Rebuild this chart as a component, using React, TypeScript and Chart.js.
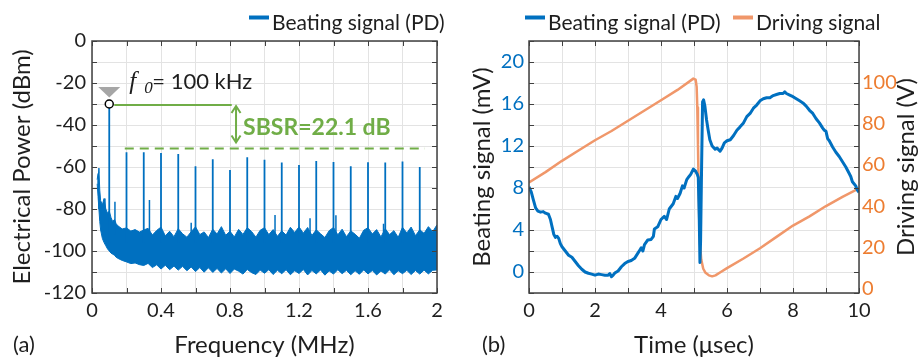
import React, { useEffect, useRef } from 'react';
import { Chart, registerables } from 'chart.js';

Chart.register(...registerables);

const SANS = 'Lato, "Open Sans", "DejaVu Sans", sans-serif';
const SERIF = '"Liberation Serif", "DejaVu Serif", serif';
const BLUE = '#0070C0';
const ORANGE_LINE = '#F0976A';
const ORANGE_TEXT = '#ED7D31';
const GREEN = '#70AD47';
const AXIS = '#404040';
const GRID = '#e3e3e3';
const TEXT = '#1e1e1e';

// ---------------- (a) spectrum ----------------
const noiseFreq = [
  0.03, 0.035, 0.04, 0.045, 0.05, 0.06, 0.07, 0.08, 0.09, 0.1,
  0.11, 0.12, 0.13, 0.14, 0.15, 0.175, 0.2, 0.225, 0.25, 0.275,
  0.3, 0.325, 0.35, 0.375, 0.4, 0.425, 0.45, 0.475, 0.5, 0.525,
  0.55, 0.575, 0.6, 0.625, 0.65, 0.675, 0.7, 0.725, 0.75, 0.775,
  0.8, 0.825, 0.85, 0.875, 0.9, 0.925, 0.95, 0.975, 1.0, 1.025,
  1.05, 1.075, 1.1, 1.125, 1.15, 1.175, 1.2, 1.225, 1.25, 1.275,
  1.3, 1.325, 1.35, 1.375, 1.4, 1.425, 1.45, 1.475, 1.5, 1.525,
  1.55, 1.575, 1.6, 1.625, 1.65, 1.675, 1.7, 1.725, 1.75, 1.775,
  1.8, 1.825, 1.85, 1.875, 1.9, 1.925, 1.95, 1.975, 2.0,
];
const noiseUpper = [
  -66, -63, -60.5, -71, -76, -78, -75, -80, -82, -81,
  -84, -86, -85, -87, -88, -89.5, -89, -90.5, -89.8, -91,
  -90, -89.2, -92.4, -90.2, -88.6, -92.8, -90.6, -93.2, -89.4, -91.8,
  -93.4, -90.8, -88.5, -92.2, -90.9, -93.6, -89.6, -91.9, -88.4, -92.5,
  -90.6, -93.3, -89.7, -92.1, -88.9, -90.7, -93.4, -90.1, -88.9, -92.2,
  -89.8, -93.0, -90.4, -92.4, -88.7, -91.2, -88.5, -91.5, -88.8, -92.6,
  -89.9, -91.8, -93.6, -90.3, -88.8, -92.3, -89.6, -93.2, -90.4, -92.0,
  -93.9, -90.1, -88.9, -91.9, -89.8, -93.3, -89.4, -92.2, -90.3, -93.5,
  -88.7, -91.4, -88.6, -92.7, -89.9, -91.6, -88.4, -90.8, -87.5,
];
const noiseLower = [
  -68, -74, -80, -86, -90, -94, -96, -97.5, -99, -100,
  -101, -101.5, -102, -103, -103.5, -104.5, -105.2, -106, -105.7, -106.5,
  -106.9, -105.9, -107.9, -106.6, -108.6, -106.8, -108.9, -107.2, -109.1, -107.3,
  -109.4, -107.6, -109.8, -107.9, -110.1, -108.0, -110.2, -108.3, -110.5, -108.5,
  -110.7, -108.6, -109.6, -111.0, -108.8, -110.3, -111.2, -109.1, -110.6, -108.9,
  -111.2, -109.2, -110.8, -108.9, -111.3, -109.4, -110.7, -108.8, -111.4, -109.3,
  -110.9, -109.0, -111.5, -109.5, -111.0, -108.9, -110.8, -109.2, -111.3, -109.4,
  -111.1, -109.0, -110.9, -109.3, -111.4, -109.5, -111.0, -108.9, -111.3, -109.4,
  -110.8, -109.2, -111.2, -109.3, -111.0, -109.1, -110.9, -109.2, -109,
];
const harmonicFreq = [0.1, 0.2, 0.3, 0.4, 0.5, 0.6, 0.7, 0.8, 0.9, 1.0, 1.1, 1.2, 1.3, 1.4, 1.5, 1.6, 1.7, 1.8, 1.9];
const harmonicPeak = [-30, -53, -53, -53.3, -53.8, -59.6, -56.3, -61.4, -55.3, -56.6, -57.8, -59, -57.1, -57.6, -59.7, -57.7, -57.9, -57.4, -60];
const harmonicBase = -96;
const spurFreq = [0.075, 0.133, 0.333, 0.575, 1.061, 1.264, 1.414, 1.69];
const spurPeak = [-75, -76.5, -75.7, -86.5, -82.9, -84.4, -83, -87];
const spurBase = -92;

const freqGridTicks = [0, 0.2, 0.4, 0.6, 0.8, 1.0, 1.2, 1.4, 1.6, 1.8, 2.0];
const freqLabelTicks = [0, 0.4, 0.8, 1.2, 1.6, 2.0];
const freqTickLabels = ['0', '0.4', '0.8', '1.2', '1.6', '2'];
const powerGridTicks = [0, -10, -20, -30, -40, -50, -60, -70, -80, -90, -100, -110, -120];
const powerLabelTicks = [0, -20, -40, -60, -80, -100, -120];
const powerTickLabels = ['0', '-20', '-40', '-60', '-80', '-100', '-120'];

const carrierFreq = 0.1;
const carrierPower = -30;
const sidebandPower = -51.2;
const sbsrSolidEnd = 0.81;
const sbsrDashStart = 0.19;
const sbsrDashEnd = 1.93;
const sbsrArrowFreq = 0.835;
const sbsrLabel = 'SBSR=22.1 dB';
const f0Symbol = 'f';
const f0Sub = '0';
const f0Text = '= 100 kHz';

// ---------------- (b) time domain ----------------
const beatTime = [
  0, 0.07, 0.13, 0.2, 0.27, 0.35, 0.43, 0.5, 0.59, 0.65,
  0.7, 0.75, 0.8, 0.85, 0.9, 0.95, 1.0, 1.1, 1.2, 1.3,
  1.4, 1.5, 1.6, 1.7, 1.8, 1.9, 2.0, 2.1, 2.2, 2.3,
  2.4, 2.45, 2.5, 2.55, 2.6, 2.7, 2.8, 2.9, 3.0, 3.1,
  3.2, 3.3, 3.36, 3.4, 3.45, 3.5, 3.6, 3.7, 3.77, 3.8,
  3.9, 4.0, 4.1, 4.17, 4.25, 4.37, 4.45, 4.5, 4.58, 4.65,
  4.7, 4.78, 4.85, 4.9, 4.98, 5.05, 5.1, 5.13, 5.16, 5.18,
  5.2, 5.23, 5.26, 5.29, 5.33, 5.38, 5.43, 5.48, 5.55, 5.64,
  5.7, 5.79, 5.85, 5.92, 6.0, 6.1, 6.2, 6.3, 6.39, 6.5,
  6.6, 6.7, 6.8, 6.9, 7.0, 7.1, 7.2, 7.3, 7.4, 7.5,
  7.6, 7.7, 7.75, 7.8, 7.9, 8.0, 8.1, 8.2, 8.3, 8.4,
  8.5, 8.6, 8.7, 8.8, 8.9, 8.95, 9.0, 9.05, 9.1, 9.2,
  9.3, 9.4, 9.5, 9.6, 9.7, 9.75, 9.8, 9.9, 9.95, 10.0,
];
const beatMv = [
  8.1, 7.6, 6.9, 6.1, 5.8, 5.7, 5.75, 5.6, 5.5, 5.0,
  4.3, 3.6, 3.3, 3.4, 3.2, 2.7, 2.4, 2.0, 1.6, 1.4,
  1.0, 0.6, 0.26, 0.0, -0.12, -0.2, -0.3, -0.2, -0.25, -0.3,
  -0.3, -0.15, -0.45, -0.3, -0.1, 0.1, 0.5, 0.8, 1.0, 1.1,
  1.3, 1.8, 2.1, 2.3, 2.0, 2.6, 3.05, 3.1, 3.4, 4.1,
  4.3, 5.0, 5.3, 5.0, 6.0, 6.5, 7.2, 7.0, 7.5, 8.2,
  8.0, 8.8, 9.1, 9.3, 9.8, 9.6, 9.3, 9.0, 5.0, 0.9,
  3.0, 10.0, 16.2, 16.4, 15.8, 14.5, 13.5, 12.6, 12.0, 11.7,
  11.8, 11.5, 11.8, 12.3, 12.5, 12.6, 13.0, 13.5, 13.8, 14.2,
  14.8, 15.1, 15.6, 15.9, 16.3, 16.5, 16.6, 16.6, 16.8, 16.9,
  17.0, 17.0, 17.15, 17.0, 16.85, 16.7, 16.5, 16.3, 16.1, 15.8,
  15.4, 15.1, 14.6, 14.2, 13.7, 13.5, 13.4, 12.7, 12.5, 11.9,
  11.4, 11.0, 10.5, 10.0, 9.4, 9.1, 8.6, 8.2, 7.8, 7.6,
];
const driveTime = [
  0, 0.5, 1, 1.5, 2, 2.5, 3, 3.5, 4, 4.5,
  4.98, 5.05, 5.08, 5.1, 5.12, 5.14, 5.16, 5.18, 5.22, 5.28,
  5.35, 5.45, 5.55, 5.65, 5.8, 6.0, 6.5, 7.0, 7.5, 8.0,
  8.5, 9.0, 9.5, 10.0,
];
const driveV = [
  51.5, 56.5, 62, 67, 72, 76.5, 81.5, 86.5, 91.5, 96.5,
  102, 101.5, 98, 88, 70, 50, 32, 22, 14, 9.5,
  7.5, 6.3, 5.8, 6.3, 7.8, 9.8, 14.5, 19.5, 25, 30.5,
  35, 40, 44.5, 48.6,
];
const timeGridTicks = [0, 1, 2, 3, 4, 5, 6, 7, 8, 9, 10];
const timeLabelTicks = [0, 2, 4, 6, 8, 10];
const beatGridTicks = [-2, 0, 2, 4, 6, 8, 10, 12, 14, 16, 18, 20, 22];
const beatLabelTicks = [0, 4, 8, 12, 16, 20];
const driveLabelTicks = [0, 20, 40, 60, 80, 100];

const legendA = ['Beating signal (PD)'];
const legendB = ['Beating signal (PD)', 'Driving signal'];

// ---------------- helpers ----------------
const near = (a: number, b: number) => Math.abs(a - b) < 1e-6;
const labelFor = (vals: number[], labels: string[]) => (v: any) => {
  const i = vals.findIndex((t) => near(t, Number(v)));
  return i >= 0 ? labels[i] : '';
};
const setTicks = (vals: number[]) => (scale: any) => {
  scale.ticks = vals.map((v) => ({ value: v }));
};
const spikes = (freqs: number[], peaks: number[], base: number) =>
  freqs.flatMap((f, i) => [
    { x: f, y: base },
    { x: f, y: peaks[i] },
    { x: f, y: null },
  ]);

function drawFrame(chart: any, xTicks: number[], yTicks: number[], yId: string) {
  const { ctx, chartArea: a, scales } = chart;
  const xs = scales.x;
  const ys = scales[yId];
  ctx.save();
  ctx.strokeStyle = AXIS;
  ctx.lineWidth = 1;
  ctx.beginPath();
  for (const v of xTicks) {
    const px = Math.round(xs.getPixelForValue(v)) + 0.5;
    ctx.moveTo(px, a.bottom);
    ctx.lineTo(px, a.bottom - 5);
    ctx.moveTo(px, a.top);
    ctx.lineTo(px, a.top + 5);
  }
  for (const v of yTicks) {
    const py = Math.round(ys.getPixelForValue(v)) + 0.5;
    ctx.moveTo(a.left, py);
    ctx.lineTo(a.left + 5, py);
    ctx.moveTo(a.right, py);
    ctx.lineTo(a.right - 5, py);
  }
  ctx.stroke();
  ctx.lineWidth = 1.5;
  ctx.strokeRect(a.left, a.top, a.right - a.left, a.bottom - a.top);
  ctx.restore();
}

function drawText(ctx: any, s: string, x: number, y: number, font: string, color: string, align = 'left', rotate = 0, baseline = 'alphabetic') {
  ctx.save();
  ctx.font = font;
  ctx.fillStyle = color;
  ctx.textAlign = align;
  ctx.textBaseline = baseline;
  ctx.translate(x, y);
  if (rotate) ctx.rotate(rotate);
  ctx.fillText(s, 0, 0);
  ctx.restore();
}

function drawLegendItem(ctx: any, x: number, color: string, label: string) {
  ctx.save();
  ctx.strokeStyle = color;
  ctx.lineWidth = 4;
  ctx.beginPath();
  ctx.moveTo(x, 17.5);
  ctx.lineTo(x + 20, 17.5);
  ctx.stroke();
  ctx.restore();
  drawText(ctx, label, x + 23, 30, `21px ${SANS}`, TEXT);
}

const TITLE_FONT = `24px ${SANS}`;
const TICK_FONT = { family: SANS, size: 20 };

// ---------------- chart (a) ----------------
const plotA = {
  id: 'plotA',
  afterDraw(chart: any) {
    const { ctx, chartArea: a, scales } = chart;
    const x = scales.x;
    const y = scales.y;
    const cx = x.getPixelForValue(carrierFreq);
    const cy = y.getPixelForValue(carrierPower);
    const sy = y.getPixelForValue(sidebandPower);
    ctx.save();
    ctx.strokeStyle = GREEN;
    ctx.lineWidth = 2;
    ctx.beginPath();
    ctx.moveTo(cx + 5, cy + 1);
    ctx.lineTo(x.getPixelForValue(sbsrSolidEnd), cy + 1);
    ctx.stroke();
    ctx.setLineDash([9, 6]);
    ctx.beginPath();
    ctx.moveTo(x.getPixelForValue(sbsrDashStart), sy);
    ctx.lineTo(x.getPixelForValue(sbsrDashEnd), sy);
    ctx.stroke();
    ctx.setLineDash([]);
    const ax = x.getPixelForValue(sbsrArrowFreq);
    const t1 = cy + 2;
    const t2 = sy - 6;
    ctx.beginPath();
    ctx.moveTo(ax, t1);
    ctx.lineTo(ax, t2);
    ctx.moveTo(ax - 4.5, t1 + 7);
    ctx.lineTo(ax, t1);
    ctx.lineTo(ax + 4.5, t1 + 7);
    ctx.moveTo(ax - 4.5, t2 - 7);
    ctx.lineTo(ax, t2);
    ctx.lineTo(ax + 4.5, t2 - 7);
    ctx.stroke();
    ctx.restore();
    drawText(ctx, sbsrLabel, ax + 7, (cy + sy) / 2 + 9, `bold 23px ${SANS}`, GREEN);
    ctx.save();
    ctx.fillStyle = '#A6A6A6';
    ctx.beginPath();
    ctx.moveTo(cx - 11, cy - 17);
    ctx.lineTo(cx + 11, cy - 17);
    ctx.lineTo(cx, cy - 6.5);
    ctx.closePath();
    ctx.fill();
    ctx.fillStyle = '#ffffff';
    ctx.strokeStyle = '#000000';
    ctx.lineWidth = 1.5;
    ctx.beginPath();
    ctx.arc(cx, cy, 4, 0, Math.PI * 2);
    ctx.fill();
    ctx.stroke();
    ctx.restore();
    drawText(ctx, f0Symbol, cx + 20, cy - 15, `italic 25px ${SERIF}`, TEXT);
    drawText(ctx, f0Sub, cx + 35, cy - 11.5, `italic 17px ${SERIF}`, TEXT);
    drawText(ctx, f0Text, cx + 43, cy - 15, `22px ${SANS}`, TEXT);
    drawFrame(chart, freqGridTicks, powerGridTicks, 'y');
    const mid = (a.left + a.right) / 2;
    drawText(ctx, 'Frequency (MHz)', mid, 353, TITLE_FONT, TEXT, 'center');
    drawText(ctx, 'Electrical Power (dBm)', 30, (a.top + a.bottom) / 2, TITLE_FONT, TEXT, 'center', -Math.PI / 2);
    drawText(ctx, '(a)', 13, 352, `22px ${SANS}`, TEXT);
    drawLegendItem(ctx, 249, BLUE, legendA[0]);
  },
};

function configA(): any {
  return {
    type: 'line',
    data: {
      datasets: [
        {
          data: spikes(harmonicFreq, harmonicPeak, harmonicBase),
          borderColor: BLUE,
          borderWidth: 1.8,
          pointRadius: 0,
          spanGaps: false,
        },
        {
          data: spikes(spurFreq, spurPeak, spurBase),
          borderColor: BLUE,
          borderWidth: 1.5,
          pointRadius: 0,
          spanGaps: false,
        },
        {
          data: noiseFreq.map((f, i) => ({ x: f, y: noiseUpper[i] })),
          borderColor: BLUE,
          borderWidth: 1,
          pointRadius: 0,
          fill: false,
        },
        {
          data: noiseFreq.map((f, i) => ({ x: f, y: noiseLower[i] })),
          borderColor: BLUE,
          borderWidth: 1,
          pointRadius: 0,
          backgroundColor: BLUE,
          fill: '-1',
        },
      ],
    },
    options: {
      responsive: false,
      animation: false,
      devicePixelRatio: 1,
      events: [],
      layout: { padding: { top: 41, right: 23, left: 0, bottom: 0 } },
      plugins: { legend: { display: false }, tooltip: { enabled: false }, filler: { propagate: false } },
      scales: {
        x: {
          type: 'linear',
          min: 0,
          max: 2,
          afterBuildTicks: setTicks(freqGridTicks),
          afterFit: (s: any) => { s.height = 65; },
          grid: { color: GRID, lineWidth: 1, drawTicks: false },
          border: { display: false },
          ticks: { callback: labelFor(freqLabelTicks, freqTickLabels), font: TICK_FONT, color: TEXT, padding: 6, maxRotation: 0, autoSkip: false },
        },
        y: {
          type: 'linear',
          min: -120,
          max: 0,
          afterBuildTicks: setTicks(powerGridTicks),
          afterFit: (s: any) => { s.width = 92; },
          grid: { color: GRID, lineWidth: 1, drawTicks: false },
          border: { display: false },
          ticks: { callback: labelFor(powerLabelTicks, powerTickLabels), font: TICK_FONT, color: TEXT, padding: 6, autoSkip: false },
        },
      },
    },
    plugins: [plotA],
  };
}

// ---------------- chart (b) ----------------
const plotB = {
  id: 'plotB',
  afterDraw(chart: any) {
    const { ctx, chartArea: a } = chart;
    drawFrame(chart, timeGridTicks, beatGridTicks, 'yL');
    const mid = (a.left + a.right) / 2;
    const vmid = (a.top + a.bottom) / 2;
    drawText(ctx, 'Time (\u03bcsec)', mid, 353, TITLE_FONT, TEXT, 'center');
    drawText(ctx, 'Beating signal (mV)', 30, vmid, TITLE_FONT, TEXT, 'center', -Math.PI / 2);
    drawText(ctx, 'Driving signal (V)', 454, vmid, TITLE_FONT, TEXT, 'center', -Math.PI / 2);
    drawText(ctx, '(b)', 22, 352, `22px ${SANS}`, TEXT);
    drawLegendItem(ctx, 65, BLUE, legendB[0]);
    drawLegendItem(ctx, 273, ORANGE_LINE, legendB[1]);
  },
};

function configB(): any {
  return {
    type: 'line',
    data: {
      datasets: [
        {
          data: beatTime.map((t, i) => ({ x: t, y: beatMv[i] })),
          yAxisID: 'yL',
          borderColor: BLUE,
          borderWidth: 3,
          pointRadius: 0,
          borderJoinStyle: 'round',
        },
        {
          data: driveTime.map((t, i) => ({ x: t, y: driveV[i] })),
          yAxisID: 'yR',
          borderColor: ORANGE_LINE,
          borderWidth: 2.5,
          pointRadius: 0,
          borderJoinStyle: 'round',
        },
      ],
    },
    options: {
      responsive: false,
      animation: false,
      devicePixelRatio: 1,
      events: [],
      layout: { padding: { top: 41, right: 0, left: 0, bottom: 0 } },
      plugins: { legend: { display: false }, tooltip: { enabled: false } },
      scales: {
        x: {
          type: 'linear',
          min: 0,
          max: 10,
          afterBuildTicks: setTicks(timeGridTicks),
          afterFit: (s: any) => { s.height = 65; },
          grid: { color: GRID, lineWidth: 1, drawTicks: false },
          border: { display: false },
          ticks: { callback: labelFor(timeLabelTicks, timeLabelTicks.map(String)), font: TICK_FONT, color: TEXT, padding: 6, maxRotation: 0, autoSkip: false },
        },
        yL: {
          type: 'linear',
          position: 'left',
          min: -2,
          max: 22,
          afterBuildTicks: setTicks(beatGridTicks),
          afterFit: (s: any) => { s.width = 69; },
          grid: { color: GRID, lineWidth: 1, drawTicks: false },
          border: { display: false },
          ticks: { callback: labelFor(beatLabelTicks, beatLabelTicks.map(String)), font: TICK_FONT, color: BLUE, padding: 5, autoSkip: false },
        },
        yR: {
          type: 'linear',
          position: 'right',
          min: -2.3,
          max: 120.3,
          afterBuildTicks: setTicks(driveLabelTicks),
          afterFit: (s: any) => { s.width = 61; },
          grid: { display: false, drawTicks: false },
          border: { display: false },
          ticks: { font: TICK_FONT, color: ORANGE_TEXT, padding: 3, autoSkip: false },
        },
      },
    },
    plugins: [plotB],
  };
}

export default function App() {
  const refA = useRef<HTMLCanvasElement | null>(null);
  const refB = useRef<HTMLCanvasElement | null>(null);
  useEffect(() => {
    const a = new Chart(refA.current as HTMLCanvasElement, configA());
    const b = new Chart(refB.current as HTMLCanvasElement, configB());
    return () => {
      a.destroy();
      b.destroy();
    };
  }, []);
  return (
    <div style={{ position: 'absolute', left: 0, top: 0, width: 920, height: 358, background: '#ffffff', overflow: 'hidden' }}>
      <canvas ref={refA} width={460} height={358} style={{ position: 'absolute', left: 0, top: 0, width: 460, height: 358 }} />
      <canvas ref={refB} width={460} height={358} style={{ position: 'absolute', left: 460, top: 0, width: 460, height: 358 }} />
    </div>
  );
}
